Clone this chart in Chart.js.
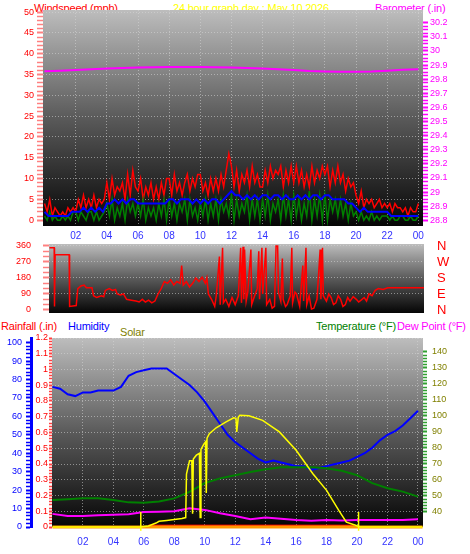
<!DOCTYPE html>
<html>
<head>
<meta charset="utf-8">
<script src="https://cdn.jsdelivr.net/npm/chart.js@4"></script>
<style>
  body { margin: 0; background: #fff; width: 470px; height: 554px; position: relative; overflow: hidden;
         font-family: "Liberation Sans", Arial, sans-serif; }
  canvas { position: absolute; left: 0; }
  .t { position: absolute; font-size: 11px; line-height: 14px; white-space: nowrap; letter-spacing: -0.2px; }
</style>
</head>
<body>
<div class="t" style="left:34px;top:1px;color:#ff0000">Windspeed (mph)</div>
<div class="t" style="left:173px;top:1px;color:#ffff00">24 hour graph day : May 10 2026</div>
<div class="t" style="left:375px;top:1px;color:#ff00ff">Barometer (.in)</div>

<div class="t" style="left:1px;top:319px;color:#ff0000">Rainfall (.in)</div>
<div class="t" style="left:68px;top:319px;color:#0000ff">Humidity</div>
<div class="t" style="left:120px;top:325px;color:#808000">Solar</div>
<div class="t" style="left:316px;top:319px;color:#008000">Temperature (°F)</div>
<div class="t" style="left:397px;top:319px;color:#ff00ff">Dew Point (°F)</div>

<canvas id="windChart" width="470" height="245" style="top:0"></canvas>
<canvas id="dirChart" width="470" height="80" style="top:240px"></canvas>
<canvas id="climChart" width="470" height="234" style="top:320px"></canvas>

<script>
// ============================================================
// 24 hour weather graph — wind, direction, climate panels
// ============================================================

// ── Axis ticks ───────────────────────────────────────────
const hourTicks   = [2, 4, 6, 8, 10, 12, 14, 16, 18, 20, 22, 24];
const hourLabels  = ['02','04','06','08','10','12','14','16','18','20','22','00'];
const windTicks   = [0, 5, 10, 15, 20, 25, 30, 35, 40, 45, 50];
const baroTicks   = [28.8, 28.9, 29, 29.1, 29.2, 29.3, 29.4, 29.5, 29.6, 29.7, 29.8, 29.9, 30, 30.1, 30.2];
const dirTicks    = [0, 90, 180, 270, 360];
const compassText = ['N', 'E', 'S', 'W', 'N'];
const humTicks    = [0, 10, 20, 30, 40, 50, 60, 70, 80, 90, 100];
const rainTicks   = [0, 0.1, 0.2, 0.3, 0.4, 0.5, 0.6, 0.7, 0.8, 0.9, 1, 1.1, 1.2];
const tempTicks   = [40, 50, 60, 70, 80, 90, 100, 110, 120, 130, 140];

// ── Wind gust & speed (mph), one reading every 10 minutes ──
const gustStep = 1 / 6;
const windGust = [
  4,2,5,1,3,2,   1,2,1,3,2,3,   2,5,3,6,3,5,   3,6,3,5,4,5,   9,5,10,6,8,7,  9,5,11,6,12,8,
  7,10,5,8,6,9,  5,8,5,9,6,10,  10,6,11,7,9,6, 9,11,7,10,8,11, 11,7,9,6,10,7, 10,7,11,8,12,16,
  13,8,12,7,11,9, 12,8,13,9,11,8, 8,12,9,13,10,12, 11,13,8,12,9,13, 9,13,9,12,8,11, 8,13,9,12,10,13,
  11,13,8,12,9,13, 9,11,7,10,8,9, 6,4,7,3,5,4, 5,3,4,5,3,4, 3,4,2,4,3,3, 2,3,1,3,2,2, 4
];
const windSpeed = [
  1,0,2,0,1,0,  0,1,0,1,0,2,  2,0,2,1,0,2,  2,0,2,0,1,2,  4,1,5,0,3,1,  4,0,5,2,4,1,
  4,1,5,0,3,1,  3,0,4,1,5,0,  5,1,4,0,4,2,  5,0,5,1,3,0,  4,1,5,0,4,1,  5,0,5,2,4,1,
  6,0,5,1,4,2,  6,0,5,1,5,0,  5,1,6,0,4,2,  5,0,6,1,5,0,  6,1,5,0,4,1,  7,0,5,1,6,0,
  6,0,5,2,5,1,  5,1,4,0,4,1,  2,0,2,0,1,0,  2,0,1,0,1,1,  1,0,1,0,0,1,  1,0,0,1,0,0,  1
];
// average wind speed (mph), every 15 minutes
const avgStep = 0.25;
const windAvg = [
  2,1,1,1, 1,1,1,2, 2,2,3,2, 3,2,3,2, 4,4,5,4, 5,4,5,5,
  4,4,4,4, 4,4,4,4, 5,5,4,5, 5,5,4,5, 4,5,4,5, 5,4,5,6,
  7,6,6,5, 6,5,6,5, 6,6,5,6, 6,5,6,5, 5,6,5,6, 5,6,6,5,
  6,6,5,5, 5,5,4,4, 3,2,3,2, 2,2,2,2, 2,1,1,1, 1,1,1,1, 1
];

// ── Barometer (in), hourly ───────────────────────────────
const baroHours = [0,1,2,3,4,5,6,7,8,9,10,11,12,13,14,15,16,17,18,19,20,21,22,23,24];
const baroValues = [29.857, 29.86, 29.865, 29.87, 29.875, 29.88, 29.882, 29.885, 29.886, 29.886, 29.886, 29.885,
                    29.882, 29.879, 29.875, 29.87, 29.865, 29.858, 29.855, 29.853, 29.853, 29.855, 29.86, 29.866, 29.871];

// ── Wind direction (degrees) ─────────────────────────────
const dirHours = [
  0.5,0.8,0.82,0.86,1.75,1.78,2.2,2.3,2.5,2.7,2.85,3.2,3.3,3.5,3.8,3.95,4.05,4.3,4.5,4.7,4.8,5.0,5.2,5.4,5.7,
  6.0,6.2,6.4,6.6,6.8,7.0,7.2,7.4,7.6,7.8,8.0,8.2,8.4,8.6,8.8,8.9,9.0,9.2,9.4,9.6,9.8,10.0,10.2,10.4,10.5,
  10.6,10.8,11.0,11.1,11.3,11.35,11.5,11.55,11.7,11.9,12.1,12.3,12.5,12.65,12.7,12.8,12.85,12.9,13.0,13.1,
  13.3,13.35,13.5,13.7,13.8,13.85,14.0,14.05,14.25,14.3,14.5,14.65,14.8,14.9,15.0,15.05,15.2,15.3,15.35,15.5,
  15.6,15.8,15.9,15.95,16.1,16.2,16.4,16.6,16.65,16.8,16.85,17.0,17.15,17.3,17.5,17.7,17.75,17.85,17.9,18.1,
  18.25,18.4,18.55,18.7,18.85,19.0,19.15,19.3,19.45,19.6,19.8,20.0,20.15,20.3,20.5,20.65,20.8,21.0,21.2,21.4,
  21.7,22.0,24.3
];
const dirValues = [
  350,350,20,310,310,20,25,120,135,140,125,125,80,70,80,75,110,120,110,115,90,85,90,60,55,
  50,45,60,45,55,40,50,90,120,160,150,170,140,160,150,250,140,160,130,150,180,160,185,150,180,
  90,60,20,80,300,30,350,40,60,20,70,30,80,350,40,355,60,340,50,100,
  340,30,70,120,330,60,350,90,350,30,60,10,20,360,360,100,50,290,60,20,
  30,80,350,40,100,90,20,250,50,350,30,80,5,10,60,340,60,350,80,50,
  90,70,30,40,80,60,20,30,70,50,75,60,45,55,70,50,90,80,110,120,
  115,125,125
];

// ── Climate: humidity (%) half-hourly, temperature & dew point (°F) hourly ──
const humStep = 0.5;
const humidity = [
  76,75,72,71,73,73,74,74,74,76,82,84,85,86,86,86,83,80,77,73,68,62,56,50,46,
  43,40,37,35,36,35,34,33,33,31,32,33,34,35,36,38,40,43,47,50,52,55,59,63
];
const climHours = [0,1,2,3,4,5,6,7,8,9,10,11,12,13,14,15,16,17,18,19,20,21,22,23,24];
const temperature = [47.5, 48, 48.5, 48.5, 47.5, 46, 45.8, 46.5, 48.5, 52.5, 58, 61, 63,
                     65, 66.7, 68, 68, 68, 67.3, 65.8, 63, 58, 54.8, 52.7, 49.6];
const dewPoint = [38.8, 37.5, 37.5, 38, 38.3, 38.5, 40, 40.2, 40.5, 42.3, 41.3, 39.2, 37.5,
                  35.5, 36.5, 35.8, 35, 34.5, 35, 34.6, 35, 35, 35, 35, 35.5];

// ── Solar (W/m²) ─────────────────────────────────────────
const solarHours = [0,5.8,6.3,6.8,7.0,7.5,8.0,8.5,8.75,8.8,9.0,9.15,9.2,9.25,9.45,9.65,9.7,9.75,9.95,10.05,
                    10.1,10.15,10.3,10.75,11.4,11.9,12.05,12.1,12.2,12.3,12.9,13.8,14.9,16,17.1,18,18.8,19.3,19.9,20.2,24.3];
const solarValues = [0,0,5,21,30,35,40,45,50,280,350,350,70,360,380,390,50,410,440,450,
                     180,470,494,525,556,578,575,503,580,591,589,564,503,406,282,194,88,26,9,0,0];
const sunMarkHours  = [5.8, 5.8, 12, 20.1, 20.1];
const sunMarkValues = [-20, 80, null, -20, 80];

// ── Rainfall (in) ────────────────────────────────────────
const rainHours  = [0, 24.3];
const rainValues = [0, 0];
const rateHours  = [6.3, 19.8];
const rateValues = [0.012, 0.012];

// ── Helpers ──────────────────────────────────────────────
const pts = (xs, ys) => ys.map((y, i) => ({ x: xs[i], y }));
const stepPts = (step, ys) => ys.map((y, i) => ({ x: i * step, y }));

function withMinor(major, n) {
    const out = [];
    major.forEach((v, i) => {
        out.push({ value: v, isMajor: true });
        if (i < major.length - 1)
            for (let k = 1; k < n; k++) out.push({ value: v + (major[i + 1] - v) * k / n, isMajor: false });
    });
    return out;
}

function noPad(s) { s.paddingTop = 0; s.paddingBottom = 0; s.paddingLeft = 0; s.paddingRight = 0; }

const GRID = 'rgba(215,215,215,0.55)';
const FONT = 'Liberation Sans';

const bgPlugin = {
    id: 'bgGradient',
    beforeDraw(chart) {
        const { ctx, chartArea: a } = chart;
        const g = ctx.createLinearGradient(0, a.top, 0, a.bottom);
        g.addColorStop(0, '#bdbdbd');
        g.addColorStop(0.5, '#5a5a5a');
        g.addColorStop(1, '#050505');
        ctx.save();
        ctx.fillStyle = g;
        ctx.fillRect(a.left, a.top, a.right - a.left, a.bottom - a.top);
        ctx.restore();
    }
};

function hourAxis(min, max, show, height, pad) {
    return {
        type: 'linear', position: 'bottom', min, max, display: show,
        afterBuildTicks: s => { s.ticks = hourTicks.map(v => ({ value: v })); },
        afterFit: s => { noPad(s); if (height) s.height = height; },
        ticks: { autoSkip: false, maxRotation: 0, color: '#3333ff', font: { family: FONT, size: 10 },
                 padding: pad || 4, callback: (v, i) => hourLabels[i] },
        grid: { color: GRID, drawTicks: false },
        border: { display: false, dash: [1, 2] },
    };
}

function valueAxis(o) {
    return {
        type: 'linear', position: o.position, min: o.min, max: o.max, weight: o.weight || 0,
        afterBuildTicks: s => { s.ticks = withMinor(o.ticks, o.minor); },
        afterFit: s => { noPad(s); s.width = o.width; },
        ticks: {
            autoSkip: false, color: o.color, padding: o.padding,
            font: { family: FONT, size: 9 },
            callback: (v, i, t) => t[i].isMajor ? String(parseFloat(v.toFixed(2))) : '',
        },
        grid: {
            drawOnChartArea: !!o.grid,
            color: c => (c.tick && c.tick.isMajor && c.tick.value !== o.ticks[0]) ? GRID : 'rgba(0,0,0,0)',
            tickColor: o.tickColor || o.color,
            tickLength: o.tickLength,
            tickWidth: c => (c.tick && c.tick.isMajor) ? 2 : 1.5,
        },
        border: { display: !!o.border, color: o.border, width: 3, dash: [1, 2] },
    };
}

const base = {
    responsive: false, animation: false, devicePixelRatio: 1, events: [],
    plugins: { legend: { display: false }, tooltip: { enabled: false } },
    elements: { point: { radius: 0 }, line: { tension: 0 } },
};

// ── Panel 1: wind speed & barometer ─────────────────────
new Chart(document.getElementById('windChart'), {
    type: 'line',
    data: {
        datasets: [
            { data: pts(baroHours, baroValues), yAxisID: 'baro', borderColor: '#ff00ff', borderWidth: 2, order: 0 },
            { data: stepPts(avgStep, windAvg), yAxisID: 'wind', borderColor: '#0000ff', borderWidth: 2, order: 1 },
            { data: stepPts(gustStep, windSpeed), yAxisID: 'wind', borderColor: '#008000', borderWidth: 1.5, order: 2 },
            { data: stepPts(gustStep, windGust), yAxisID: 'wind', borderColor: '#ff0000', borderWidth: 1.5, order: 3 },
        ],
    },
    options: {
        ...base,
        layout: { padding: { top: 10, left: 0, right: 0, bottom: 0 } },
        scales: {
            x: hourAxis(-0.1, 24.3, true, 19, 4),
            wind: valueAxis({ position: 'left', min: -1.4, max: 50.5, ticks: windTicks, minor: 5, width: 43,
                              color: '#ff0000', tickColor: '#ff8080', tickLength: 6, padding: 3, grid: true }),
            baro: valueAxis({ position: 'right', min: 28.76, max: 30.29, ticks: baroTicks, minor: 4, width: 47,
                              color: '#ff00ff', tickLength: 5, padding: 2 }),
        },
    },
    plugins: [bgPlugin],
});

// ── Panel 2: wind direction ─────────────────────────────
new Chart(document.getElementById('dirChart'), {
    type: 'line',
    data: {
        datasets: [
            { data: pts(dirHours, dirValues), yAxisID: 'dir', borderColor: '#ff0000', borderWidth: 1.5 },
        ],
    },
    options: {
        ...base,
        layout: { padding: { top: 4, bottom: 7, left: 0, right: 0 } },
        scales: {
            x: hourAxis(0.47, 24.3, false),
            dir: valueAxis({ position: 'left', min: -17, max: 371, ticks: dirTicks, minor: 3, width: 49,
                             color: '#ff0000', tickColor: '#ff8080', tickLength: 6, padding: 12, grid: true }),
            compass: {
                type: 'linear', position: 'right', min: -17, max: 371,
                afterBuildTicks: s => { s.ticks = dirTicks.map(v => ({ value: v })); },
                afterFit: s => { noPad(s); s.width = 46; },
                ticks: { autoSkip: false, color: '#ff0000', padding: 13, font: { family: FONT, size: 13 },
                         callback: (v, i) => compassText[i] },
                grid: { display: false, drawTicks: false },
                border: { display: false },
            },
        },
    },
    plugins: [bgPlugin],
});

// ── Panel 3: rain, humidity, solar, temperature ─────────
new Chart(document.getElementById('climChart'), {
    type: 'line',
    data: {
        datasets: [
            { data: pts(climHours, dewPoint), yAxisID: 'temp', borderColor: '#ff00ff', borderWidth: 2, order: 1 },
            { data: pts(climHours, temperature), yAxisID: 'temp', borderColor: '#008000', borderWidth: 2, order: 2 },
            { data: stepPts(humStep, humidity), yAxisID: 'hum', borderColor: '#0000ff', borderWidth: 2, order: 3 },
            { data: pts(solarHours, solarValues), yAxisID: 'sol', borderColor: '#ffff00', borderWidth: 1.5, order: 0 },
            { data: pts(sunMarkHours, sunMarkValues), yAxisID: 'sol', borderColor: '#ffff00', borderWidth: 1.5, spanGaps: false, order: 0 },
            { data: pts(rateHours, rateValues), yAxisID: 'rain', borderColor: '#ff0000', backgroundColor: '#ff0000',
              borderWidth: 1, fill: 'origin', order: 5 },
            { data: pts(rainHours, rainValues), yAxisID: 'rain', borderColor: '#ff9900', borderWidth: 3, order: 4 },
        ],
    },
    options: {
        ...base,
        clip: false,
        layout: { padding: { top: 18, left: 0, right: 0, bottom: 0 } },
        scales: {
            x: hourAxis(-0.03, 24.33, true, 27, 9),
            hum: valueAxis({ position: 'left', weight: 1, min: 0, max: 102.5, ticks: humTicks, minor: 5, width: 31,
                             color: '#0000ff', tickLength: 5, padding: 4, border: '#0000ff' }),
            rain: valueAxis({ position: 'left', weight: 0, min: 0, max: 1.2, ticks: rainTicks, minor: 5, width: 21,
                              color: '#ff0000', tickColor: '#ff4040', tickLength: 3, padding: 1, grid: true }),
            temp: valueAxis({ position: 'right', min: 30.6, max: 148.75, ticks: tempTicks, minor: 5, width: 47,
                              color: '#808000', tickColor: '#30a030', tickLength: 4, padding: 5 }),
            sol: { type: 'linear', display: false, min: 0, max: 1000 },
        },
    },
    plugins: [bgPlugin],
});
</script>
</body>
</html>
